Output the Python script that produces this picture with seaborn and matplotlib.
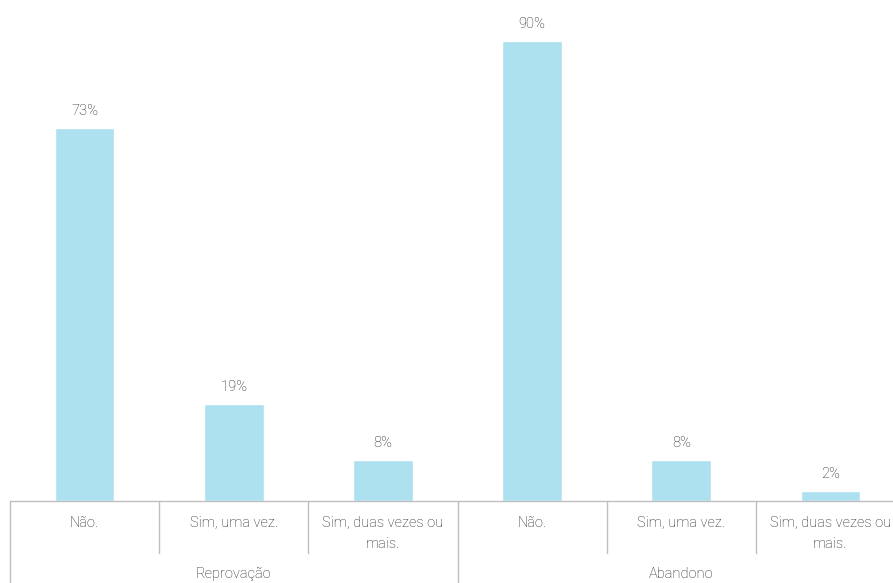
import textwrap
import matplotlib
matplotlib.use("Agg")
import matplotlib.pyplot as plt
import matplotlib.transforms as mtransforms
import pandas as pd
import seaborn as sns

groups = ["Reprovação", "Reprovação", "Reprovação", "Abandono", "Abandono", "Abandono"]
answers = ["Não.", "Sim, uma vez.", "Sim, duas vezes ou mais.",
           "Não.", "Sim, uma vez.", "Sim, duas vezes ou mais."]
values = [73, 19, 8, 90, 8, 2]

df = pd.DataFrame({"slot": [f"{g}|{a}" for g, a in zip(groups, answers)],
                   "group": groups, "answer": answers, "value": values})

sns.set_theme(style="white")
plt.rcParams["font.family"] = ["Roboto", "DejaVu Sans"]

BAR = "#ADE1F0"
TEXT = "#222222"
LINE = "#BFBFBF"

W, H = 893, 583
fig = plt.figure(figsize=(W / 100, H / 100), dpi=100)
ax = fig.add_axes([10 / W, (H - 501) / H, 895 / W, 501 / H])

sns.barplot(data=df, x="slot", y="value", order=list(df["slot"]),
            color=BAR, width=0.4, saturation=1, ax=ax)

ax.set_ylim(0, 98)
ax.set_xlim(-0.5, len(df) - 0.5)
ax.set_xlabel("")
ax.set_ylabel("")
ax.set_yticks([])
ax.set_xticks([])
for side in ["top", "right", "left"]:
    ax.spines[side].set_visible(False)
ax.spines["bottom"].set_color(LINE)
ax.spines["bottom"].set_linewidth(1)

FONT = dict(fontsize=10.5, color=TEXT, fontweight="light")

for i, v in enumerate(values):
    ax.annotate(f"{v}%", (i, v), xytext=(0, 7), textcoords="offset points",
                ha="center", va="bottom", **FONT)

trans = mtransforms.blended_transform_factory(ax.transData, ax.transAxes)
px = 1 / 501  # one pixel in axes height

# answer labels
for i, a in enumerate(answers):
    ax.text(i, -15 * px, textwrap.fill(a, 18), transform=trans, ha="center",
            va="top", linespacing=1.6, **FONT)

# separators between answers and between groups
n = len(df)
for b in range(n + 1):
    x = b - 0.5
    is_group_edge = b == 0 or b == n or groups[b - 1] != groups[min(b, n - 1)]
    y1 = -82 * px if is_group_edge else -52 * px
    ax.plot([x, x], [0, y1], transform=trans, color=LINE, lw=1, clip_on=False)

# group labels
start = 0
for b in range(1, n + 1):
    if b == n or groups[b] != groups[start]:
        ax.text((start + b - 1) / 2, -66 * px, groups[start], transform=trans,
                ha="center", va="top", **FONT)
        start = b

fig.savefig("out.png", dpi=100)
